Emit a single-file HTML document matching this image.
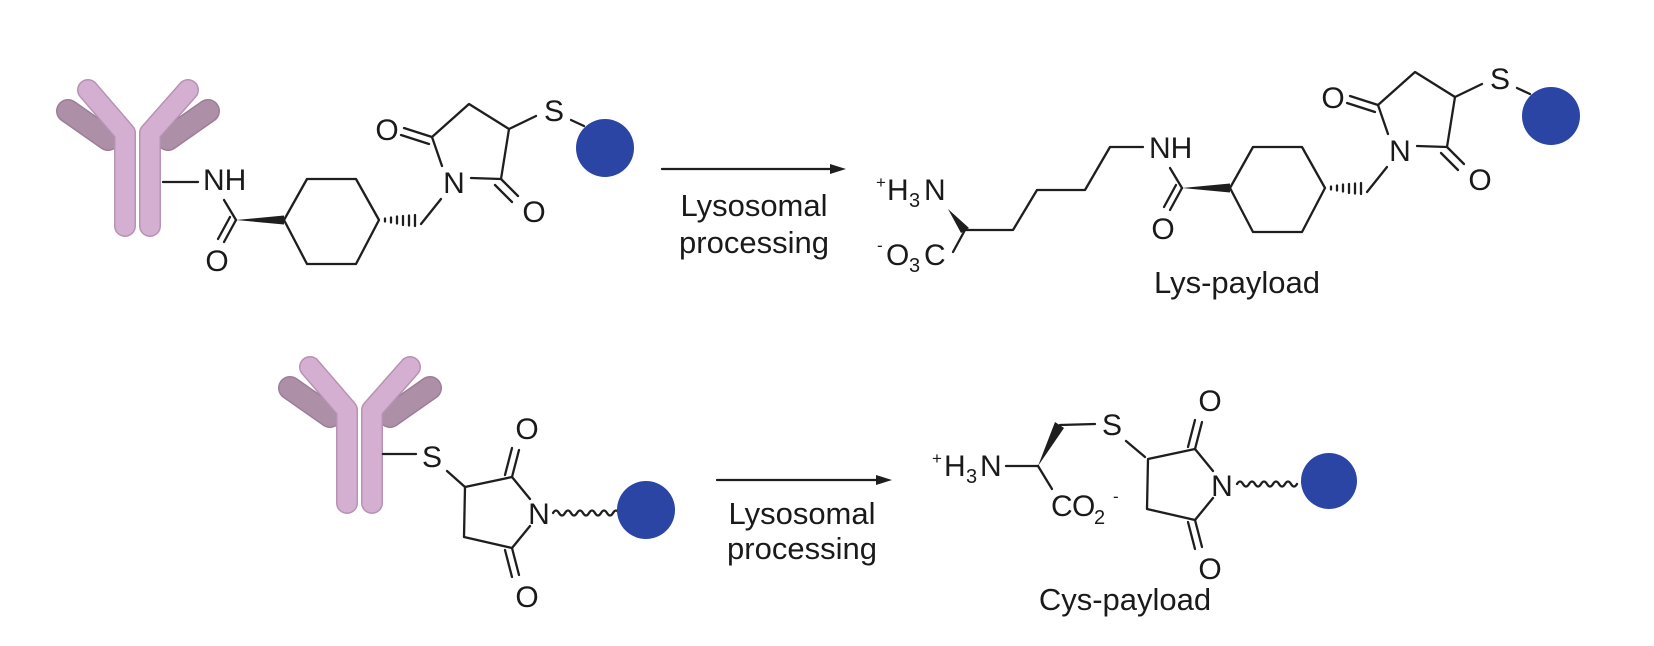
<!DOCTYPE html>
<html><head><meta charset="utf-8"><style>
html,body{margin:0;padding:0;background:#fff;}
svg{display:block;}
text{font-family:"Liberation Sans",Arial,sans-serif;fill:#1a1a1a;}
.b{stroke:#1e1e1e;stroke-width:2.3;fill:none;stroke-linecap:round;stroke-linejoin:round;}
.a{font-size:30px;}
.s{font-size:20px;}
.sp{font-size:17px;}
.c{font-size:31px;}
</style></head><body>
<svg width="1654" height="646" viewBox="0 0 1654 646" xmlns="http://www.w3.org/2000/svg">
<rect width="1654" height="646" fill="#fff"/>
<defs>
<g id="ab">
  <path d="M290,388 L330,416" stroke="#9c7f97" stroke-width="24" stroke-linecap="round"/>
  <path d="M430,388 L390,416" stroke="#9c7f97" stroke-width="24" stroke-linecap="round"/>
  <path d="M290,388 L330,416" stroke="#ad8fa8" stroke-width="21" stroke-linecap="round"/>
  <path d="M430,388 L390,416" stroke="#ad8fa8" stroke-width="21" stroke-linecap="round"/>
  <path d="M310,367 L347,410 L347,503" stroke="#b693b2" stroke-width="22" fill="none" stroke-linecap="round" stroke-linejoin="round"/>
  <path d="M410,367 L372,410 L372,503" stroke="#b693b2" stroke-width="22" fill="none" stroke-linecap="round" stroke-linejoin="round"/>
  <path d="M310,367 L347,410 L347,503" stroke="#d5afd1" stroke-width="19" fill="none" stroke-linecap="round" stroke-linejoin="round"/>
  <path d="M410,367 L372,410 L372,503" stroke="#d5afd1" stroke-width="19" fill="none" stroke-linecap="round" stroke-linejoin="round"/>
</g>
<g id="amide">
  <text class="a" x="1149" y="158">NH</text>
  <path class="b" d="M1170,168 L1182,188"/>
  <path class="b" d="M1182,188 L1170,210 M1176,185 L1164,207"/>
  <text class="a" x="1163" y="239" text-anchor="middle">O</text>
  <polygon points="1182,188 1230,183.5 1230,192.5" fill="#1e1e1e"/>
  <path class="b" d="M1230,188 L1253,147 L1302,147 L1325,188 L1302,232 L1253,232 Z"/>
  <path class="b" stroke-width="2" d="M1331,186.5 v3 M1337,185.5 v5 M1343,184.5 v7 M1349,184 v9 M1355,183.5 v10 M1361,183 v11"/>
  <path class="b" d="M1367,192 L1387,167"/>
  <text class="a" x="1400" y="161" text-anchor="middle">N</text>
  <path class="b" d="M1388,134 L1378,105 L1415,72 L1455,97 L1447,147 L1417,146"/>
  <path class="b" d="M1378,105 L1350,96 M1375,112 L1347,103"/>
  <text class="a" x="1333" y="108" text-anchor="middle">O</text>
  <path class="b" d="M1447,147 L1464,164 M1441,153 L1458,170"/>
  <text class="a" x="1480" y="190" text-anchor="middle">O</text>
  <path class="b" d="M1455,97 L1482,84"/>
  <text class="a" x="1500" y="89" text-anchor="middle">S</text>
  <path class="b" d="M1517,88 L1530,94"/>
  <circle cx="1551" cy="116" r="29" fill="#2b45a5"/>
</g>
<g id="succ">
  <path class="b" d="M530,499 L512,477 L465,487 L464,537 L512,548 L530,526"/>
  <text class="a" x="539" y="524" text-anchor="middle">N</text>
  <path class="b" d="M512,477 L519,450 M505,475 L512,448"/>
  <text class="a" x="527" y="439" text-anchor="middle">O</text>
  <path class="b" d="M512,548 L519,575 M505,550 L512,577"/>
  <text class="a" x="527" y="607" text-anchor="middle">O</text>
</g>
</defs>

<!-- Row 1 -->
<use href="#ab" transform="translate(-222,-277)"/>
<path class="b" d="M163,182 L198,182"/>
<use href="#amide" transform="translate(-946,32)"/>

<path class="b" d="M662,169 L832,169"/>
<polygon points="846,169 830,164 830,174" fill="#1e1e1e"/>
<text class="c" x="754" y="216" text-anchor="middle">Lysosomal</text>
<text class="c" x="754" y="253" text-anchor="middle">processing</text>

<text class="sp" x="876" y="188">+</text>
<text class="a" x="887" y="200">H</text>
<text class="s" x="909" y="207">3</text>
<text class="a" x="924" y="200">N</text>
<polygon points="948,209 961,233 969,228" fill="#1e1e1e"/>
<path class="b" d="M965,230 L1013,230 L1037,190 L1085,190 L1110,147 L1143,147"/>
<path class="b" d="M965,230 L953,252"/>
<text class="sp" x="877" y="251">-</text>
<text class="a" x="886" y="265">O</text>
<text class="s" x="909" y="272">3</text>
<text class="a" x="924" y="265">C</text>
<use href="#amide"/>
<text class="c" x="1237" y="293" text-anchor="middle">Lys-payload</text>

<!-- Row 2 -->
<use href="#ab"/>
<path class="b" d="M383,454 L416,454"/>
<text class="a" x="432" y="467" text-anchor="middle">S</text>
<path class="b" d="M447,471 L465,487"/>
<use href="#succ"/>
<path class="b" stroke-width="1.8" d="M553,513 q3,-5 6,0 t6,0 t6,0 t6,0 t6,0 t6,0 t6,0 t6,0 t6,0 t6,0 t6,0"/>
<circle cx="646" cy="510" r="29" fill="#2b45a5"/>

<path class="b" d="M717,480 L878,480"/>
<polygon points="892,480 876,475 876,485" fill="#1e1e1e"/>
<text class="c" x="802" y="524" text-anchor="middle">Lysosomal</text>
<text class="c" x="802" y="559" text-anchor="middle">processing</text>

<text class="sp" x="932" y="464">+</text>
<text class="a" x="944" y="476">H</text>
<text class="s" x="966" y="483">3</text>
<text class="a" x="980" y="476">N</text>
<path class="b" d="M1006,466 L1038,466"/>
<polygon points="1038,466 1055,422 1064,428" fill="#1e1e1e"/>
<path class="b" d="M1060,425 L1095,424"/>
<text class="a" x="1112" y="435" text-anchor="middle">S</text>
<path class="b" d="M1126,441 L1145,457"/>
<path class="b" d="M1038,466 L1052,489"/>
<text class="a" x="1051" y="516">C</text>
<text class="a" x="1072" y="516">O</text>
<text class="s" x="1094" y="524">2</text>
<text class="sp" x="1113" y="502">-</text>
<use href="#succ" transform="translate(683,-28)"/>
<path class="b" stroke-width="1.8" d="M1237,484 q3,-5 6,0 t6,0 t6,0 t6,0 t6,0 t6,0 t6,0 t6,0 t6,0 t6,0"/>
<circle cx="1329" cy="481" r="28" fill="#2b45a5"/>
<text class="c" x="1125" y="610" text-anchor="middle">Cys-payload</text>
</svg>
</body></html>
